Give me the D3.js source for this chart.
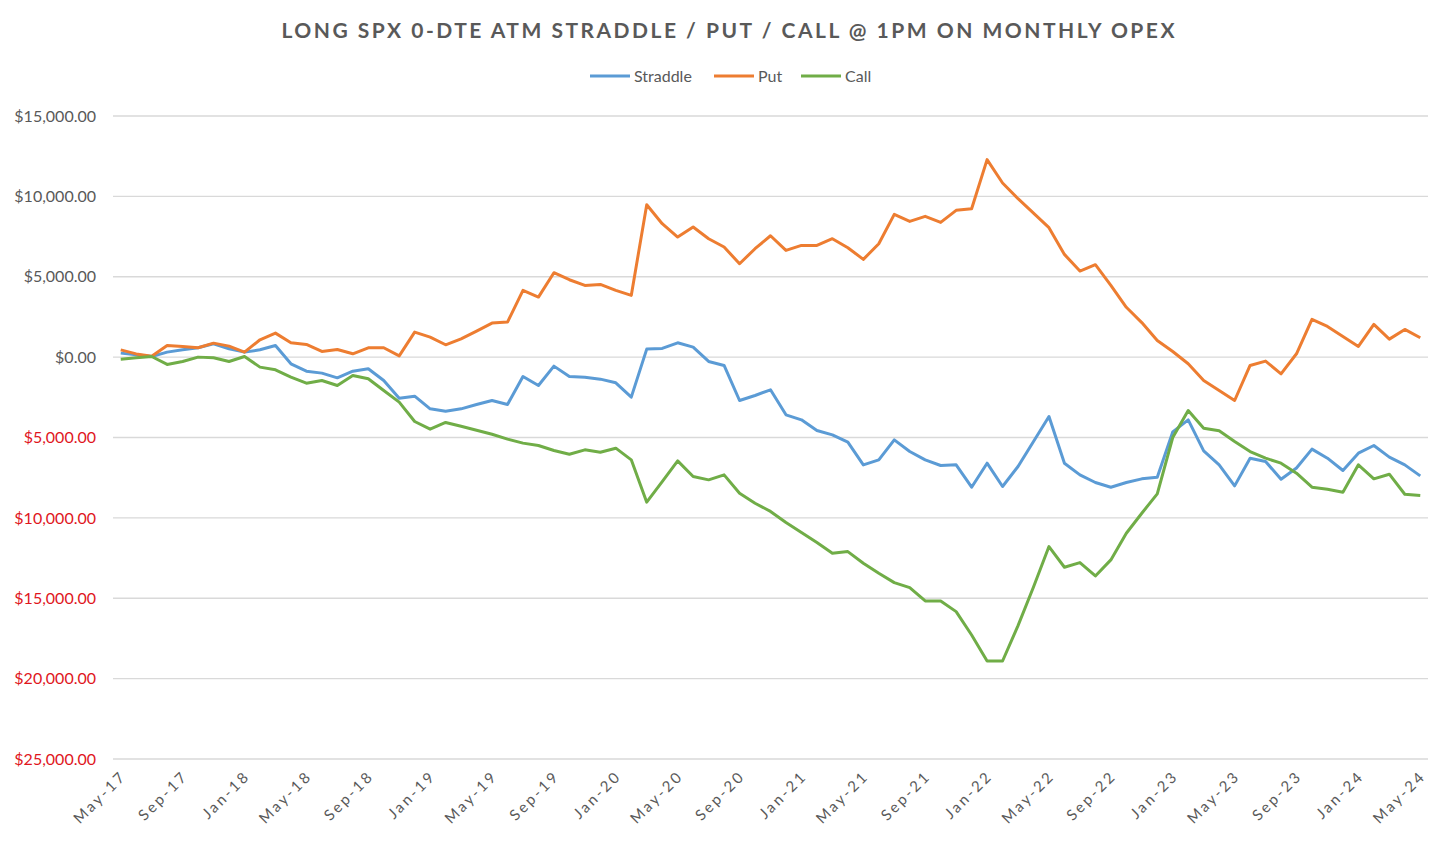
<!DOCTYPE html>
<html>
<head>
<meta charset="utf-8">
<script src="https://cdn.jsdelivr.net/npm/d3@7"></script>
<style>
  body { margin: 0; background: #fff; }
  text { font-family: Lato, "Open Sans", sans-serif; }
</style>
</head>
<body>
<div id="chart"></div>
<script>
// monthly opex, May-17 .. May-24
const months = d3.timeMonth.range(new Date(2017, 4, 1), new Date(2024, 5, 1));
const monthFmt = d3.timeFormat("%b-%y");

const straddle = [249, 145, 41, 311, 456, 581, 830, 519, 311, 456, 726, -415, -872, -996, -1287, -872, -726, -1453, -2552,
  -2428, -3216, -3362, -3216, -2947, -2698, -2947, -1204, -1764, -560, -1204, -1245, -1370, -1598, -2490, 498, 540, 892, 623, -270, -519, -2698, -2386, -2034,
  -3590, -3901, -4565, -4835, -5291, -6702, -6390, -5145, -5872, -6390, -6743, -6702, -8092, -6598, -8050, -6805, -5249, -3693, -6598, -7324, -7801, -8092, -7801, -7573, -7469,
  -4650, -3900, -5830, -6702, -8009, -6287, -6494, -7594, -6900, -5726, -6287, -7054, -5975, -5498, -6224, -6702, -7386];

const put = [450, 200, 60, 726, 664, 581, 870, 685, 311, 1079, 1494, 892, 788, 353, 477, 207, 581, 581, 80,
  1556, 1245, 768, 1141, 1619, 2117, 2179, 4150, 3735, 5250, 4814, 4461, 4524, 4150, 3839, 9483, 8300, 7470, 8093, 7366, 6848, 5810, 6744, 7550,
  6640, 6951, 6951, 7366, 6806, 6080, 7055, 8881, 8445, 8757, 8383, 9130, 9234, 12284, 10832, 9856, 8964, 8051, 6391, 5354, 5748, 4461, 3100, 2150, 1040,
  350, -415, -1453, -2075, -2698, -519, -249, -1038, 208, 2345, 1909, 1287, 664, 2034, 1121, 1722, 1204];

const call = [-125, -41, 41, -456, -270, 0, -41, -270, 41, -622, -789, -1245, -1619, -1453, -1764, -1141, -1349, -2075, -2802,
  -4004, -4481, -4066, -4300, -4550, -4800, -5100, -5350, -5500, -5809, -6038, -5768, -5913, -5664, -6390, -9025, -7739, -6452, -7428, -7635, -7324, -8465, -9088, -9600,
  -10291, -10914, -11536, -12200, -12097, -12823, -13445, -14026, -14338, -15168, -15168, -15832, -17284, -18903, -18903, -16700, -14300, -11785, -13072, -12781, -13611, -12615, -10955, -9710, -8507,
  -5000, -3319, -4419, -4585, -5249, -5872, -6287, -6598, -7220, -8092, -8216, -8403, -6702, -7573, -7283, -8528, -8611];

const yTicks = [15000, 10000, 5000, 0, -5000, -10000, -15000, -20000, -25000];

const series = [
  {name: "Straddle", values: straddle, color: "#5B9BD5"},
  {name: "Put", values: put, color: "#ED7D31"},
  {name: "Call", values: call, color: "#70AD47"}
];

const width = 1456, height = 842;
const plot = {left: 113, right: 1428, top: 116, bottom: 759};

const svg = d3.select("#chart").append("svg")
  .attr("width", width)
  .attr("height", height);

svg.append("rect").attr("width", width).attr("height", height).attr("fill", "#fff");

const x = d3.scalePoint()
  .domain(months.map((d, i) => i))
  .range([plot.left, plot.right])
  .padding(0.5);

const y = d3.scaleLinear()
  .domain([-25000, 15000])
  .range([plot.bottom, plot.top]);

// grid lines
svg.append("g")
  .selectAll("line")
  .data(yTicks)
  .enter()
  .append("line")
  .attr("x1", plot.left)
  .attr("x2", plot.right)
  .attr("y1", d => y(d))
  .attr("y2", d => y(d))
  .attr("stroke", "#d9d9d9")
  .attr("stroke-width", 1.3);

// y axis
const money = d3.format(",.2f");
const yAxis = svg.append("g")
  .attr("transform", `translate(${plot.left},0)`)
  .call(d3.axisLeft(y).tickValues(yTicks).tickSize(0).tickPadding(17)
    .tickFormat(d => "$" + money(Math.abs(d))));
yAxis.select(".domain").remove();
yAxis.selectAll("text")
  .style("font-size", "16px")
  .style("font-family", "Lato, sans-serif")
  .attr("fill", d => d < 0 ? "#e0161d" : "#595959");

// x axis labels, every 4th month
const xAxis = svg.append("g")
  .attr("transform", `translate(0,${plot.bottom})`)
  .call(d3.axisBottom(x).tickValues(d3.range(0, months.length, 4)).tickSize(0)
    .tickFormat(i => monthFmt(months[i])));
xAxis.select(".domain").remove();
xAxis.selectAll("text")
  .style("font-size", "15px")
  .style("font-family", "Lato, sans-serif")
  .style("letter-spacing", "2.6px")
  .attr("fill", "#595959")
  .attr("text-anchor", "end")
  .attr("dy", null)
  .attr("y", 0)
  .attr("transform", "translate(6,18) rotate(-45)");

// lines
const line = d3.line()
  .x((d, i) => x(i))
  .y(d => y(d));

svg.append("g")
  .selectAll("path")
  .data(series)
  .enter()
  .append("path")
  .attr("d", d => line(d.values))
  .attr("fill", "none")
  .attr("stroke", d => d.color)
  .attr("stroke-width", 3)
  .attr("stroke-linejoin", "round");

// title
svg.append("text")
  .attr("x", 728)
  .attr("y", 38)
  .attr("text-anchor", "middle")
  .attr("textLength", 893)
  .attr("lengthAdjust", "spacing")
  .style("font-size", "21px")
  .style("font-weight", "bold")
  .attr("fill", "#595959")
  .text("LONG SPX 0-DTE ATM STRADDLE / PUT / CALL @ 1PM ON MONTHLY OPEX");

// legend
const legendPos = [590, 714, 801];
const legend = svg.append("g")
  .selectAll("g")
  .data(series)
  .enter()
  .append("g")
  .attr("transform", (d, i) => `translate(${legendPos[i]},76)`);

legend.append("line")
  .attr("x1", 0).attr("x2", 40)
  .attr("stroke", d => d.color)
  .attr("stroke-width", 3);

legend.append("text")
  .attr("x", 44)
  .attr("y", 6)
  .style("font-size", "16px")
  .attr("fill", "#595959")
  .text(d => d.name);
</script>
</body>
</html>
